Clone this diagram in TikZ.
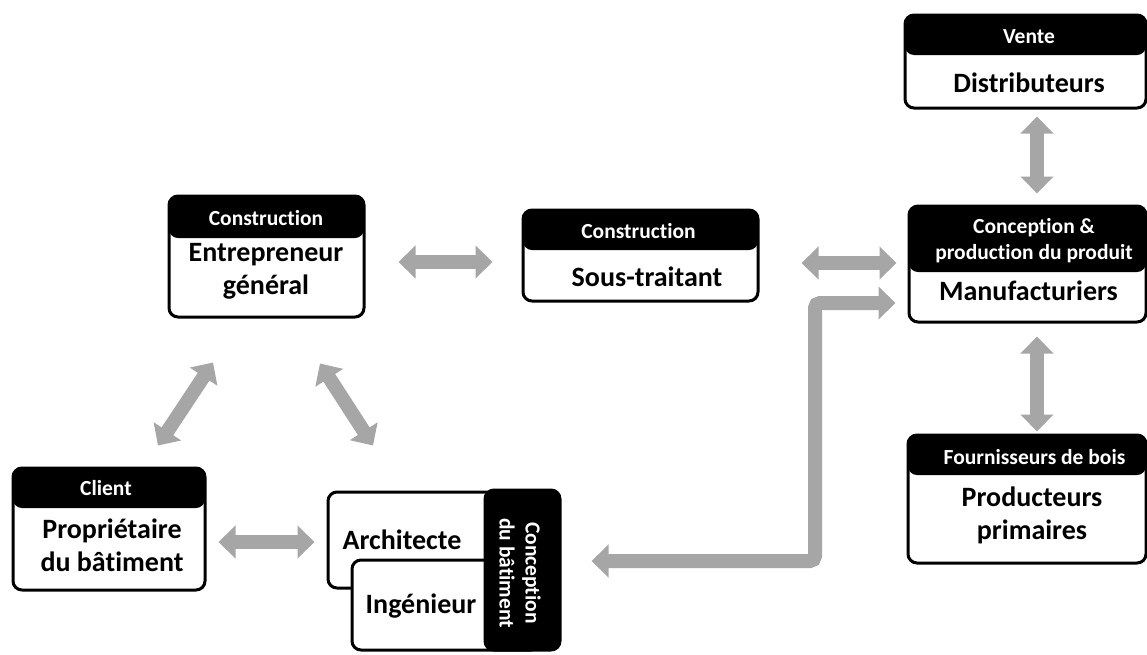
\documentclass[tikz,border=0pt]{standalone}
\usepackage{fontspec}
\setmainfont{Carlito}[Ligatures=NoCommon]
\usetikzlibrary{arrows.meta,calc}
\definecolor{arrgray}{RGB}{166,166,166}
\tikzset{
  x=1pt, y=-1pt,
  box/.style={rectangle, draw=black, line width=3pt, fill=white, rounded corners=9pt, inner sep=0pt},
  hbox/.style={box, path picture={\fill[black] (path picture bounding box.north west) rectangle ([yshift=-#1pt]path picture bounding box.north east);}},
  blackbox/.style={rectangle, draw=black, line width=3pt, fill=black, rounded corners=9pt, inner sep=0pt},
  hdr/.style={text=white, font=\bfseries\fontsize{21.5}{26}\selectfont, align=center, inner sep=0pt},
  body/.style={text=black, font=\bfseries\fontsize{28}{33}\selectfont, align=center, inner sep=0pt},
  arr/.style={draw=arrgray, line width=14pt, {Triangle[width=32pt,length=17pt]}-{Triangle[width=32pt,length=17pt]}},
}
\begin{document}
\begin{tikzpicture}
\useasboundingbox (0,0) rectangle (1147,654);
\fill[white] (0,0) rectangle (1147,654);

% Boxes
\node[hbox=42, minimum width=195pt, minimum height=121pt] (ent) at (266.5,256.5) {};
\node[hdr] (entH) at (266,218) {Construction};
\node[body] (entB) at (266,271) {Entrepreneur\\général};

\node[hbox=40, minimum width=235pt, minimum height=91pt] (sous) at (640.5,255.5) {};
\node[hdr] (sousH) at (638.5,231) {Construction};
\node[body] (sousB) at (647,277) {Sous-traitant};

\node[hbox=40, minimum width=241pt, minimum height=93pt] (dist) at (1025.5,61.5) {};
\node[hdr] (distH) at (1029,37) {Vente};
\node[body] (distB) at (1029,83) {Distributeurs};

\node[hbox=66, minimum width=237pt, minimum height=116pt] (manu) at (1027.5,264) {};
\node[hdr] (manuH) at (1034,241) {Conception \&\\production du produit};
\node[body] (manuB) at (1028.5,291) {Manufacturiers};

\node[hbox=40, minimum width=238pt, minimum height=128pt] (prod) at (1027,499) {};
\node[hdr] (prodH) at (1034.5,457) {Fournisseurs de bois};
\node[body] (prodB) at (1032,515) {Producteurs\\primaires};

\node[hbox=40, minimum width=192pt, minimum height=122pt] (client) at (109,529) {};
\node[hdr] (clientH) at (106,488) {Client};
\node[body] (clientB) at (112,545) {Propriétaire\\du bâtiment};

% Building design group
\node[box, minimum width=212pt, minimum height=96pt] (arch) at (434,540) {};
\node[body] (archB) at (402,540) {Architecte};
\node[box, minimum width=188pt, minimum height=90pt] (ing) at (446,605) {};
\node[body] (ingB) at (421,606) {Ingénieur};
\node[blackbox, minimum width=75pt, minimum height=160pt] (concep) at (522.5,570) {};
\node[hdr, rotate=-90] (concepT) at (520,573) {Conception\\du bâtiment};

% Arrows
\draw[arr] ($(ent.east)+(33,5.5)$) -- ($(sous.west)+(-29,6.5)$);
\draw[arr] ($(sous.east)+(42,7.5)$) -- ($(manu.west)+(-11,-1)$);
\draw[arr, rounded corners=5pt] ($(manu.west)+(-12,39)$) -| (815,561) -- ($(concep.east)+(30,-9)$);
\draw[arr] ($(dist.south)+(11.5,7)$) -- ($(manu.north)+(9.5,-11)$);
\draw[arr] ($(manu.south)+(9.5,13)$) -- ($(prod.north)+(10,-2)$);
\draw[arr] ($(ent.south)+(-53.5,44)$) -- ($(client.north)+(49,-21)$);
\draw[arr] ($(ent.south)+(53.5,45)$) -- ($(arch.north)+(-61,-45)$);
\draw[arr] ($(client.east)+(12,13)$) -- ($(arch.west)+(-12,2)$);
\end{tikzpicture}
\end{document}
